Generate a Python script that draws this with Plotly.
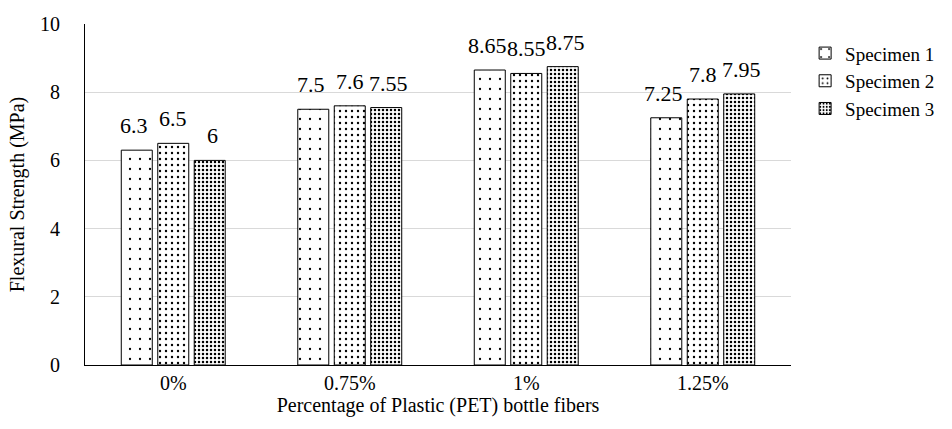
import plotly.graph_objects as go

categories = ["0%", "0.75%", "1%", "1.25%"]
specimen_1 = [6.3, 7.5, 8.65, 7.25]
specimen_2 = [6.5, 7.6, 8.55, 7.8]
specimen_3 = [6.0, 7.55, 8.75, 7.95]
series_names = ["Specimen 1", "Specimen 2", "Specimen 3"]

FONT = "serif"

# dot patterns from sparse to dense
patterns = [
    dict(shape=".", size=10, solidity=0.04, fgcolor="black", bgcolor="white"),
    dict(shape=".", size=6, solidity=0.12, fgcolor="black", bgcolor="white"),
    dict(shape=".", size=4, solidity=0.3, fgcolor="black", bgcolor="white"),
]

all_series = [specimen_1, specimen_2, specimen_3]

fig = go.Figure()
for name, vals, pat in zip(series_names, all_series, patterns):
    fig.add_trace(go.Bar(
        x=categories, y=vals, name=name,
        marker=dict(color="white", line=dict(color="black", width=1), pattern=pat),
    ))

# value labels above each bar, shifted to the bar's slot in the group
slot_px = 39
for k, vals in enumerate(all_series):
    for cat, v in zip(categories, vals):
        fig.add_annotation(
            x=cat, y=v, text=f"{v:g}", showarrow=False,
            xanchor="center", yanchor="bottom",
            xshift=(k - 1) * slot_px, yshift=10,
            font=dict(family=FONT, size=22, color="black"),
        )

fig.update_layout(
    template="none",
    width=952, height=429,
    margin=dict(l=85, r=155, t=24, b=64),
    paper_bgcolor="white", plot_bgcolor="white",
    font=dict(family=FONT, color="black"),
    barmode="group", bargap=0.38, bargroupgap=0.15,
    legend=dict(x=1.02, y=0.97, xanchor="left", yanchor="top",
                font=dict(family=FONT, size=19, color="black"),
                itemwidth=30, tracegroupgap=2),
)
fig.update_xaxes(
    type="category",
    showline=True, linecolor="black", linewidth=1, showgrid=False,
    tickfont=dict(family=FONT, size=20, color="black"), ticks="",
    title=dict(text="Percentage of Plastic (PET) bottle fibers",
               font=dict(family=FONT, size=20, color="black"), standoff=2),
)
fig.update_yaxes(
    range=[0, 10], dtick=2, showgrid=True, gridcolor="#d9d9d9", gridwidth=1,
    showline=True, linecolor="black", linewidth=1, zeroline=False, ticks="",
    tickfont=dict(family=FONT, size=20, color="black"), ticklabelstandoff=20,
    title=dict(text="Flexural Strength (MPa)",
               font=dict(family=FONT, size=20, color="black"), standoff=10),
)

fig.write_html("out.html")
